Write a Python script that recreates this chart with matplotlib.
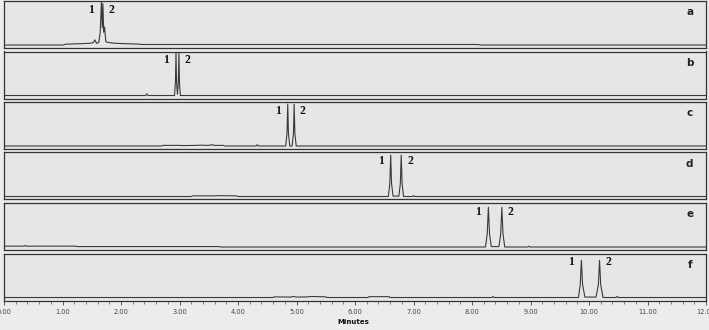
# -*- coding: utf-8 -*-

"""
Output: out.png
Six stacked chromatograms (a-f), peaks 1 and 2 eluting later in each run
"""


### 0 ### Imports and settings

import matplotlib
matplotlib.use("Agg")
import matplotlib.pyplot as plt
import matplotlib.transforms as mtransforms
from matplotlib.ticker import MultipleLocator

plt.rcParams['font.family'] = 'DejaVu Sans'
plt.rcParams['savefig.facecolor'] = '#ececec'


### 1 ### Data (minutes, normalised detector signal)

panel_names = ["a", "b", "c", "d", "e", "f"]

a_time = [0.0, 1.02, 1.05, 1.30, 1.45, 1.52, 1.555, 1.58, 1.62, 1.645, 1.665, 1.68, 1.69,
          1.705, 1.72, 1.74, 1.78, 1.90, 2.10, 2.32, 2.35, 8.10, 8.15, 12.0]
a_signal = [0.0, 0.0, 0.02, 0.03, 0.04, 0.05, 0.12, 0.04, 0.06, 0.3, 1.0, 0.4, 0.97,
            0.3, 0.42, 0.08, 0.06, 0.04, 0.03, 0.02, 0.012, 0.012, 0.0, 0.0]

b_time = [0.0, 2.42, 2.44, 2.46, 2.915, 2.93, 2.94, 2.95, 2.965, 2.98, 2.99, 3.00, 3.015, 12.0]
b_signal = [0.0, 0.0, 0.04, 0.0, 0.0, 0.3, 0.99, 0.3, 0.03, 0.3, 0.99, 0.3, 0.0, 0.0]

c_time = [0.0, 2.70, 2.72, 3.00, 3.05, 3.30, 3.35, 3.50, 3.55, 3.60, 3.75, 3.77, 4.31, 4.33,
          4.35, 4.815, 4.838, 4.85, 4.862, 4.885, 4.925, 4.948, 4.96, 4.972, 4.995, 12.0]
c_signal = [0.0, 0.0, 0.015, 0.015, 0.01, 0.015, 0.02, 0.015, 0.03, 0.015, 0.015, 0.0, 0.0, 0.03,
            0.0, 0.0, 0.3, 0.98, 0.3, 0.0, 0.0, 0.3, 0.98, 0.3, 0.0, 0.0]

d_time = [0.0, 3.20, 3.22, 3.60, 3.65, 3.98, 4.00, 6.57, 6.595, 6.61, 6.625, 6.65, 6.75,
          6.775, 6.79, 6.805, 6.83, 6.98, 7.00, 7.02, 12.0]
d_signal = [0.0, 0.0, 0.015, 0.015, 0.02, 0.015, 0.0, 0.0, 0.3, 0.97, 0.3, 0.01, 0.01,
            0.3, 0.97, 0.3, 0.0, 0.0, 0.02, 0.0, 0.0]

e_time = [0.0, 0.34, 0.36, 0.38, 1.23, 1.25, 3.68, 3.70, 8.23, 8.26, 8.28, 8.30, 8.33,
          8.46, 8.49, 8.51, 8.53, 8.56, 8.95, 8.97, 8.99, 12.0]
e_signal = [0.02, 0.02, 0.035, 0.02, 0.02, 0.01, 0.01, 0.0, 0.0, 0.3, 0.93, 0.3, 0.01,
            0.01, 0.3, 0.93, 0.3, 0.0, 0.0, 0.02, 0.0, 0.0]

f_time = [0.0, 4.60, 4.62, 4.90, 4.95, 5.00, 5.20, 5.25, 5.50, 5.52, 6.22, 6.24, 6.58, 6.60,
          8.34, 8.36, 8.38, 9.82, 9.85, 9.87, 9.89, 9.93, 10.12, 10.16, 10.18, 10.20,
          10.24, 10.46, 10.48, 10.50, 12.0]
f_signal = [0.0, 0.0, 0.015, 0.01, 0.025, 0.01, 0.015, 0.025, 0.015, 0.0, 0.0, 0.02, 0.02, 0.0,
            0.0, 0.025, 0.0, 0.0, 0.3, 0.87, 0.3, 0.01, 0.01, 0.3, 0.87, 0.3,
            0.0, 0.0, 0.025, 0.0, 0.0]

times = [a_time, b_time, c_time, d_time, e_time, f_time]
signals = [a_signal, b_signal, c_signal, d_signal, e_signal, f_signal]

# retention times of the two labelled peaks
peak1_times = [1.665, 2.94, 4.85, 6.61, 8.28, 9.87]
peak2_times = [1.69, 2.99, 4.96, 6.79, 8.51, 10.18]


### 2 ### Build the stacked panels

W, H = 709, 330
fig = plt.figure(figsize=(W / 100, H / 100), dpi=100, facecolor='#ececec')

left_px, right_px = 4, 706
panel_h = 47
step = 50.5

axes = []
for i, name in enumerate(panel_names):
    top_px = 1 + i * step
    bottom_px = top_px + panel_h
    ax = fig.add_axes([left_px / W, 1 - bottom_px / H,
                       (right_px - left_px) / W, panel_h / H])
    ax.set_facecolor('#e6e6e6')
    ax.plot(times[i], signals[i], color='#3a3a3a', lw=0.8)
    ax.set_xlim(0, 12)
    ax.set_ylim(-0.07, 1.03)
    ax.set_yticks([])
    for sp in ax.spines.values():
        sp.set_color('#333333')
        sp.set_linewidth(0.9)

    trans = mtransforms.blended_transform_factory(ax.transData, ax.transAxes)

    # panel letter
    ax.text(11.72, 0.76, name, transform=trans, ha='center', va='center',
            fontsize=7.5, fontweight='bold', color='#222222')

    # peak numbers
    ax.annotate("1", xy=(peak1_times[i], 0.81), xycoords=trans,
                xytext=(-7.2, 0), textcoords='offset points', ha='center', va='center',
                fontsize=8.5, fontweight='bold', family='Liberation Serif', color='#111111')
    ax.annotate("2", xy=(peak2_times[i], 0.81), xycoords=trans,
                xytext=(6.3, 0), textcoords='offset points', ha='center', va='center',
                fontsize=8.5, fontweight='bold', family='Liberation Serif', color='#111111')

    if i < len(panel_names) - 1:
        ax.set_xticks([])
    axes.append(ax)

# x axis on the bottom panel only
ax = axes[-1]
ax.xaxis.set_major_locator(MultipleLocator(1))
ax.xaxis.set_minor_locator(MultipleLocator(0.2))
ax.set_xticks(range(0, 13))
ax.set_xticklabels([f"{v:.2f}" for v in range(0, 13)])
ax.tick_params(axis='x', which='major', direction='out', length=3, width=0.6,
               labelsize=4.8, colors='#444444', pad=3)
ax.tick_params(axis='x', which='minor', direction='out', length=1.8, width=0.5,
               colors='#555555')

fig.text(353 / W, 1 - 322 / H, "Minutes", ha='center', va='center',
         fontsize=5, fontweight='bold', color='#111111')


### 3 ### Export

plt.savefig('out.png', dpi=100, facecolor='#ececec')
